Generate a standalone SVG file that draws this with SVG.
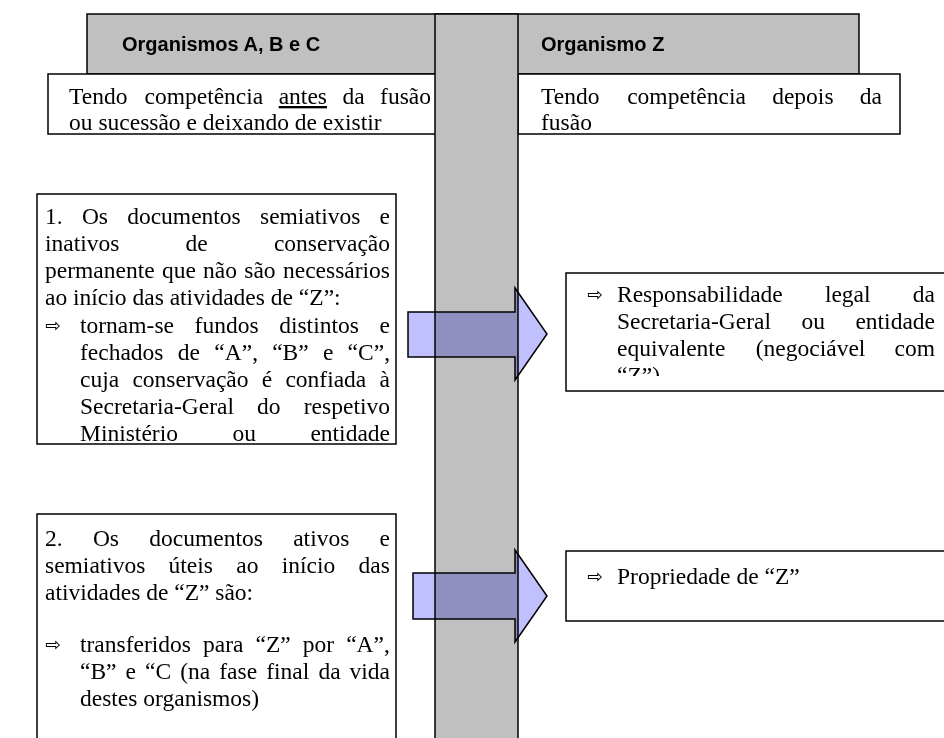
<svg xmlns="http://www.w3.org/2000/svg" width="944" height="738" viewBox="0 0 944 738">
<style>
.t{font-family:'Liberation Serif','Times New Roman',serif;font-size:23.5px;fill:#000}
.h{font-family:'Liberation Sans',Arial,sans-serif;font-weight:bold;font-size:20px;fill:#000}
.ar{font-family:'DejaVu Sans',sans-serif;font-size:19px;fill:#000}
.box{fill:#fff;stroke:#000;stroke-width:1.5}
.grey{fill:#C0C0C0;stroke:#000;stroke-width:1.5}
.flow{fill:#C0C0FF;stroke:#000;stroke-width:1.5;mix-blend-mode:multiply}
</style>
<defs>
<clipPath id="c1"><rect x="37" y="194" width="359" height="250"/></clipPath>
<clipPath id="c3"><rect x="566" y="273" width="400" height="103"/></clipPath>
</defs>
<rect width="944" height="738" fill="#fff"/>
<g id="header">
<rect class="grey" x="87" y="14" width="772" height="60"/>
<text class="h" x="122" y="51">Organismos A, B e C</text>
<text class="h" x="541" y="51">Organismo Z</text>
</g>
<g id="top-left">
<rect class="box" x="48" y="74" width="388" height="60"/>
<text class="t" y="104"><tspan x="69">Tendo</tspan><tspan x="144.5">competência</tspan><tspan x="278.7" text-decoration="underline">antes</tspan><tspan x="342.5">da</tspan><tspan x="380.1">fusão</tspan></text>
<text class="t" x="69" y="130">ou sucessão e deixando de existir</text>
</g>
<g id="top-right">
<rect class="box" x="518" y="74" width="382" height="60"/>
<text class="t" y="104"><tspan x="541">Tendo</tspan><tspan x="627.2">competência</tspan><tspan x="772.2">depois</tspan><tspan x="859.8">da</tspan></text>
<text class="t" x="541" y="130">fusão</text>
</g>
<g id="column">
<rect class="grey" x="435" y="14" width="83" height="740"/>
</g>
<g id="box1">
<rect class="box" x="37" y="194" width="359" height="250"/>
<g clip-path="url(#c1)">
<text class="t" y="224"><tspan x="45">1.</tspan><tspan x="81.9">Os</tspan><tspan x="127.2">documentos</tspan><tspan x="260">semiativos</tspan><tspan x="379.6">e</tspan></text>
<text class="t" y="251"><tspan x="45">inativos</tspan><tspan x="185.5">de</tspan><tspan x="273.9">conservação</tspan></text>
<text class="t" y="278"><tspan x="45">permanente</tspan><tspan x="161.9">que</tspan><tspan x="203.1">não</tspan><tspan x="244.3">são</tspan><tspan x="283">necessários</tspan></text>
<text class="t" x="45" y="305">ao início das atividades de “Z”:</text>
<text class="ar" x="45" y="332">⇨</text>
<text class="t" y="333"><tspan x="80">tornam-se</tspan><tspan x="194.6">fundos</tspan><tspan x="279.2">distintos</tspan><tspan x="379.5">e</tspan></text>
<text class="t" y="360"><tspan x="80">fechados</tspan><tspan x="177.8">de</tspan><tspan x="214.3">“A”,</tspan><tspan x="272.2">“B”</tspan><tspan x="322.9">e</tspan><tspan x="347.6">“C”,</tspan></text>
<text class="t" y="387"><tspan x="80">cuja</tspan><tspan x="132.4">conservação</tspan><tspan x="261.8">é</tspan><tspan x="285.4">confiada</tspan><tspan x="379.6">à</tspan></text>
<text class="t" y="414"><tspan x="80">Secretaria-Geral</tspan><tspan x="257.1">do</tspan><tspan x="303.8">respetivo</tspan></text>
<text class="t" y="441"><tspan x="80">Ministério</tspan><tspan x="232.4">ou</tspan><tspan x="310.4">entidade</tspan></text>
</g>
</g>
<g id="box2">
<rect class="box" x="37" y="514" width="359" height="240"/>
<text class="t" y="546"><tspan x="45">2.</tspan><tspan x="92.9">Os</tspan><tspan x="149.3">documentos</tspan><tspan x="293.2">ativos</tspan><tspan x="379.6">e</tspan></text>
<text class="t" y="573"><tspan x="45">semiativos</tspan><tspan x="168.6">úteis</tspan><tspan x="236.3">ao</tspan><tspan x="281.8">início</tspan><tspan x="358.6">das</tspan></text>
<text class="t" x="45" y="600">atividades de “Z” são:</text>
<text class="ar" x="45" y="651">⇨</text>
<text class="t" y="652"><tspan x="80">transferidos</tspan><tspan x="203">para</tspan><tspan x="255.5">“Z”</tspan><tspan x="302.8">por</tspan><tspan x="346.2">“A”,</tspan></text>
<text class="t" y="679"><tspan x="80">“B”</tspan><tspan x="125.6">e</tspan><tspan x="145">“C</tspan><tspan x="180.2">(na</tspan><tspan x="219.3">fase</tspan><tspan x="266.2">final</tspan><tspan x="318.4">da</tspan><tspan x="349.6">vida</tspan></text>
<text class="t" x="80" y="706">destes organismos)</text>
</g>
<g id="box-r1">
<rect class="box" x="566" y="273" width="400" height="118"/>
<g clip-path="url(#c3)">
<text class="ar" x="587" y="301">⇨</text>
<text class="t" y="302"><tspan x="617">Responsabilidade</tspan><tspan x="824.9">legal</tspan><tspan x="912.8">da</tspan></text>
<text class="t" y="329"><tspan x="617">Secretaria-Geral</tspan><tspan x="801.4">ou</tspan><tspan x="855.4">entidade</tspan></text>
<text class="t" y="356"><tspan x="617">equivalente</tspan><tspan x="755.8">(negociável</tspan><tspan x="894.5">com</tspan></text>
<text class="t" x="617" y="383">“Z”)</text>
</g>
</g>
<g id="box-r2">
<rect class="box" x="566" y="551" width="400" height="70"/>
<text class="ar" x="587" y="583">⇨</text>
<text class="t" x="617" y="584">Propriedade de “Z”</text>
</g>
<g id="connectors">
<polygon class="flow" points="408,312 515,312 515,288 547,334 515,380 515,357 408,357"/>
<polygon class="flow" points="413,573 515,573 515,550 547,596 515,642 515,619 413,619"/>
</g>
</svg>
